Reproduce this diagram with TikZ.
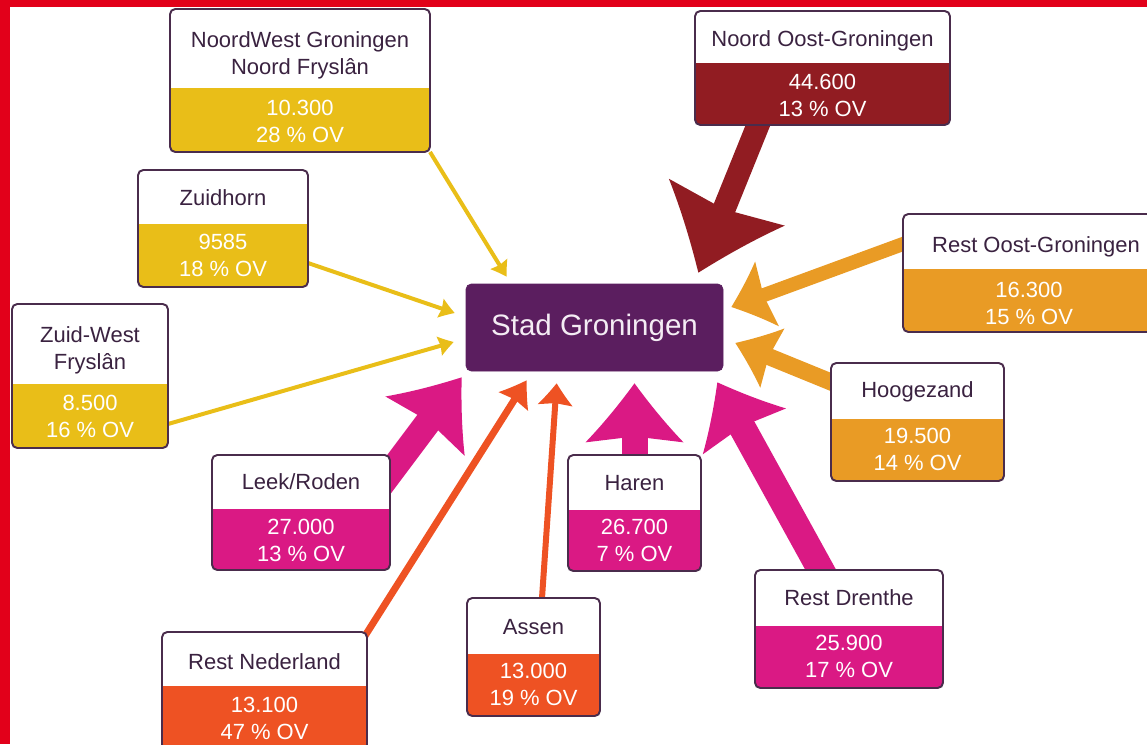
\documentclass[tikz,border=0pt]{standalone}
\usepackage{fontspec}
\setmainfont{Liberation Sans}
\usetikzlibrary{arrows.meta,backgrounds}

\definecolor{cframe}{HTML}{4A2C4C}
\definecolor{ctextdark}{HTML}{3A2240}
\definecolor{cstad}{HTML}{5B1E5F}
\definecolor{cstadtext}{HTML}{F4ECF4}
\definecolor{cyellow}{HTML}{E9BE18}
\definecolor{cdarkred}{HTML}{911C22}
\definecolor{corange}{HTML}{E99B25}
\definecolor{cmagenta}{HTML}{DA1984}
\definecolor{cred}{HTML}{EE5223}
\definecolor{cedge}{HTML}{E2001A}

% flared arrow head with hollow flanks
\pgfdeclarearrow{
  name = Flare,
  parameters = {\the\pgfarrowlength,\the\pgfarrowwidth},
  setup code = {
    \pgfarrowssettipend{\pgfarrowlength}
    \pgfarrowssetlineend{.3\pgfarrowlength}
    \pgfarrowshullpoint{\pgfarrowlength}{0pt}
    \pgfarrowsupperhullpoint{0pt}{.5\pgfarrowwidth}
    \pgfarrowssavethe\pgfarrowlength
    \pgfarrowssavethe\pgfarrowwidth
  },
  drawing code = {
    \pgfpathmoveto{\pgfqpoint{\pgfarrowlength}{0pt}}
    \pgfpathcurveto{\pgfqpoint{.66\pgfarrowlength}{.15\pgfarrowwidth}}
      {\pgfqpoint{.33\pgfarrowlength}{.31\pgfarrowwidth}}
      {\pgfqpoint{0pt}{.5\pgfarrowwidth}}
    \pgfpathlineto{\pgfqpoint{.1\pgfarrowlength}{0pt}}
    \pgfpathlineto{\pgfqpoint{0pt}{-.5\pgfarrowwidth}}
    \pgfpathcurveto{\pgfqpoint{.33\pgfarrowlength}{-.31\pgfarrowwidth}}
      {\pgfqpoint{.66\pgfarrowlength}{-.15\pgfarrowwidth}}
      {\pgfqpoint{\pgfarrowlength}{0pt}}
    \pgfpathclose
    \pgfusepathqfill
  },
  defaults = {length=12pt, width=12pt}
}

\begin{document}
\begin{tikzpicture}[
    font=\fontsize{12.5}{15.4}\selectfont,
    regionbox/.style={draw=cframe, line width=1.1pt, rounded corners=3pt,
        fill=white, inner sep=0pt, outer sep=0pt},
    lowerfill/.style 2 args={path picture={
        \fill[#1, sharp corners] (path picture bounding box.south west)
            rectangle ([yshift=#2]path picture bounding box.south east);}},
    headtext/.style={align=center, text=ctextdark, inner sep=0pt},
    valtext/.style={align=center, text=white, inner sep=0pt},
    flow/.style n args={4}{#1, line width=#2, -{Flare[length=#3,width=#4]}},
]
\useasboundingbox (0,0) rectangle (22.94,14.88);

% ============================================================
% CENTRE
% ============================================================
\node[fill=cstad, draw=cstad, rounded corners=3pt, inner sep=0pt,
    minimum width=5.14cm, minimum height=1.74cm, text=cstadtext,
    font=\fontsize{16.8}{20}\selectfont] (stad) at (11.89,8.33) {Stad Groningen};

% ============================================================
% YELLOW: WEST
% ============================================================
\node[regionbox, lowerfill={cyellow}{1.28cm},
    minimum width=5.2cm, minimum height=2.86cm] (nwgron) at (6.00,13.27) {};
\node[headtext] (nwgronlbl) at ([yshift=-0.92cm]nwgron.north)
    {NoordWest Groningen\\Noord Fryslân};
\node[valtext] (nwgronval) at ([yshift=0.61cm]nwgron.south) {10.300\\28 \% OV};

\node[regionbox, lowerfill={cyellow}{1.26cm},
    minimum width=3.4cm, minimum height=2.34cm] (zuidhorn) at (4.46,10.31) {};
\node[headtext] (zuidhornlbl) at ([yshift=-0.56cm]zuidhorn.north) {Zuidhorn};
\node[valtext] (zuidhornval) at ([yshift=0.64cm]zuidhorn.south) {9585\\18 \% OV};

\node[regionbox, lowerfill={cyellow}{1.28cm},
    minimum width=3.12cm, minimum height=2.88cm] (zwfrys) at (1.80,7.36) {};
\node[headtext] (zwfryslbl) at ([yshift=-0.92cm]zwfrys.north) {Zuid-West\\Fryslân};
\node[valtext] (zwfrysval) at ([yshift=0.63cm]zwfrys.south) {8.500\\16 \% OV};

% ============================================================
% MAGENTA / RED: SOUTH
% ============================================================
\node[regionbox, lowerfill={cmagenta}{1.22cm},
    minimum width=3.56cm, minimum height=2.30cm] (leek) at (6.02,4.63) {};
\node[headtext] (leeklbl) at ([yshift=-0.54cm]leek.north) {Leek/Roden};
\node[valtext] (leekval) at ([yshift=0.60cm]leek.south) {27.000\\13 \% OV};

\node[regionbox, lowerfill={cred}{1.28cm},
    minimum width=4.1cm, minimum height=2.36cm] (restnl) at (5.29,1.06) {};
\node[headtext] (restnllbl) at ([yshift=-0.60cm]restnl.north) {Rest Nederland};
\node[valtext] (restnlval) at ([yshift=0.63cm]restnl.south) {13.100\\47 \% OV};

\node[regionbox, lowerfill={cred}{1.24cm},
    minimum width=2.66cm, minimum height=2.36cm] (assen) at (10.67,1.74) {};
\node[headtext] (assenlbl) at ([yshift=-0.58cm]assen.north) {Assen};
\node[valtext] (assenval) at ([yshift=0.64cm]assen.south) {13.000\\19 \% OV};

\node[regionbox, lowerfill={cmagenta}{1.22cm},
    minimum width=2.66cm, minimum height=2.32cm] (haren) at (12.69,4.62) {};
\node[headtext] (harenlbl) at ([yshift=-0.56cm]haren.north) {Haren};
\node[valtext] (harenval) at ([yshift=0.62cm]haren.south) {26.700\\7 \% OV};

\node[regionbox, lowerfill={cmagenta}{1.24cm},
    minimum width=3.76cm, minimum height=2.36cm] (restdr) at (16.98,2.30) {};
\node[headtext] (restdrlbl) at ([yshift=-0.56cm]restdr.north) {Rest Drenthe};
\node[valtext] (restdrval) at ([yshift=0.64cm]restdr.south) {25.900\\17 \% OV};

% ============================================================
% ORANGE / DARK RED: EAST
% ============================================================
\node[regionbox, lowerfill={corange}{1.24cm},
    minimum width=3.46cm, minimum height=2.36cm] (hoogezand) at (18.35,6.44) {};
\node[headtext] (hoogezandlbl) at ([yshift=-0.58cm]hoogezand.north) {Hoogezand};
\node[valtext] (hoogezandval) at ([yshift=0.63cm]hoogezand.south) {19.500\\14 \% OV};

\node[regionbox, lowerfill={corange}{1.26cm},
    minimum width=5.04cm, minimum height=2.36cm] (restoost) at (20.58,9.42) {};
\node[headtext] (restoostlbl) at ([xshift=0.14cm,yshift=-0.65cm]restoost.north)
    {Rest Oost-Groningen};
\node[valtext] (restoostval) at ([yshift=0.58cm]restoost.south) {16.300\\15 \% OV};

\node[regionbox, lowerfill={cdarkred}{1.24cm},
    minimum width=5.1cm, minimum height=2.28cm] (noordoost) at (16.45,13.52) {};
\node[headtext] (noordoostlbl) at ([yshift=-0.60cm]noordoost.north) {Noord Oost-Groningen};
\node[valtext] (noordoostval) at ([yshift=0.60cm]noordoost.south) {44.600\\13 \% OV};

% ============================================================
% FLOWS
% ============================================================
\begin{scope}[on background layer]
\draw[flow={cyellow}{0.08cm}{0.3cm}{0.4cm}]
    (nwgron.south east) -- ([xshift=0.82cm,yshift=0.14cm]stad.north west);
\draw[flow={cyellow}{0.08cm}{0.3cm}{0.4cm}]
    ([yshift=-0.69cm]zuidhorn.east) -- ([xshift=-0.22cm,yshift=0.29cm]stad.west);
\draw[flow={cyellow}{0.08cm}{0.3cm}{0.4cm}]
    ([yshift=-0.96cm]zwfrys.east) -- ([xshift=-0.24cm,yshift=-0.29cm]stad.west);

\draw[flow={cdarkred}{0.46cm}{1.52cm}{2.5cm}]
    ([xshift=-1.2cm,yshift=0.22cm]noordoost.south)
    -- ([xshift=-0.5cm,yshift=0.22cm]stad.north east);
\draw[flow={corange}{0.28cm}{0.76cm}{1.38cm}]
    ([xshift=0.19cm,yshift=0.65cm]restoost.west)
    -- ([xshift=0.16cm,yshift=0.41cm]stad.east);
\draw[flow={corange}{0.34cm}{0.8cm}{1.28cm}]
    ([xshift=0.22cm,yshift=0.71cm]hoogezand.west)
    -- ([xshift=0.24cm,yshift=-0.31cm]stad.east);

\draw[flow={cmagenta}{0.52cm}{1.22cm}{1.98cm}]
    ([xshift=-0.36cm,yshift=0.31cm]leek.east)
    -- ([xshift=-0.08cm,yshift=-0.12cm]stad.south west);
\draw[flow={cmagenta}{0.52cm}{1.18cm}{1.96cm}]
    (haren) -- ([xshift=0.8cm,yshift=-0.24cm]stad.south);
\draw[flow={cmagenta}{0.54cm}{1.12cm}{1.9cm}]
    ([xshift=-0.42cm,yshift=-0.26cm]restdr.north)
    -- ([xshift=-0.12cm,yshift=-0.22cm]stad.south east);

\draw[flow={cred}{0.14cm}{0.5cm}{0.7cm}]
    ([xshift=-0.08cm,yshift=-0.14cm]restnl.north east)
    -- ([xshift=1.22cm,yshift=-0.18cm]stad.south west);
\draw[flow={cred}{0.12cm}{0.44cm}{0.7cm}]
    ([xshift=0.17cm]assen.north)
    -- ([xshift=1.82cm,yshift=-0.24cm]stad.south west);
\end{scope}

% red page edge
\fill[cedge] (0,0) rectangle (0.2,14.88);
\fill[cedge] (0,14.73) rectangle (22.94,14.88);

\end{tikzpicture}
\end{document}
